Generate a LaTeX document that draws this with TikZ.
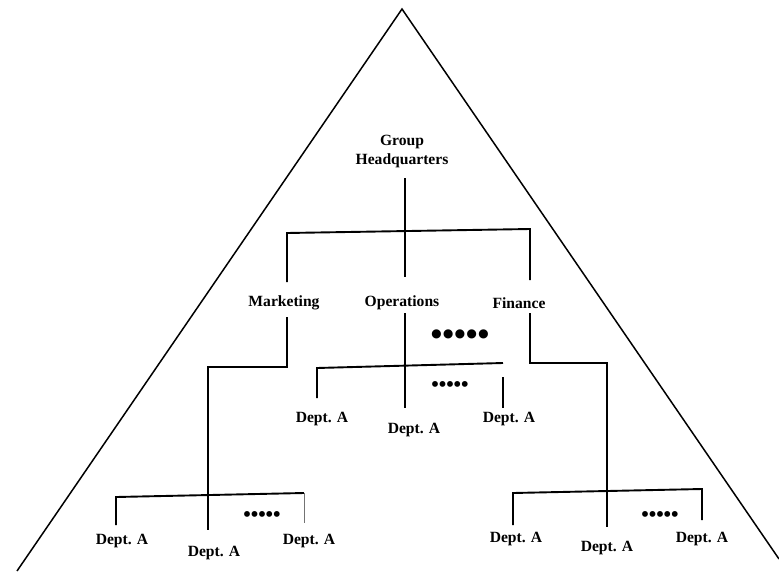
\documentclass[tikz,border=0pt]{standalone}
\usepackage{fontspec}
\setmainfont{Liberation Serif}
\begin{document}
\begin{tikzpicture}[x=1pt,y=-1pt,
  lbl/.style={font=\fontsize{15.6}{19}\selectfont\bfseries, inner sep=0pt, align=center},
  dots/.style={font=\fontsize{21.4}{22}\selectfont\bfseries, inner sep=0pt},
  bigdots/.style={font=\fontsize{33.6}{34}\selectfont\bfseries, inner sep=0pt},
  conn/.style={line width=1.9pt, line join=miter},
  thinconn/.style={line width=1pt, black!55},
  edge/.style={line width=1.5pt}]
\useasboundingbox (0,0) rectangle (779,571);

% pyramid outline
\coordinate (apex) at (402,9);
\coordinate (baseL) at (17,571);
\coordinate (baseR) at (779,559);
\draw[edge] (baseL) -- (apex) -- (baseR);

% top level
\node[lbl] (hq) at (402,151) {Group\\Headquarters};

% divisions
\node[lbl] (mkt) at (284,303) {Marketing};
\node[lbl] (ops) at (402,303) {Operations};
\node[lbl] (fin) at (519,303) {Finance};

% departments under operations
\node[lbl] (o1) at (322,419) {Dept. A};
\node[lbl] (o2) at (414,430) {Dept. A};
\node[lbl] (o3) at (509,419) {Dept. A};
\node[bigdots] (odots) at (460,338) {•••••};
\node[dots] (osub) at (450,387) {•••••};

% departments under marketing
\node[lbl] (m1) at (122,541) {Dept. A};
\node[lbl] (m2) at (214,553) {Dept. A};
\node[lbl] (m3) at (309,541) {Dept. A};
\node[dots] (mdots) at (262,517) {•••••};

% departments under finance
\node[lbl] (f1) at (516,539) {Dept. A};
\node[lbl] (f2) at (607,548) {Dept. A};
\node[lbl] (f3) at (702,539) {Dept. A};
\node[dots] (fdots) at (660,517) {•••••};

% junction points
\coordinate (hqT) at (405,178);
\coordinate (hqB) at (405,277);
\coordinate (busL) at (287,233);
\coordinate (busR) at (530,229);
\coordinate (mktT) at (287,282);
\coordinate (finT) at (530,280);

\coordinate (mktB) at (287,317);
\coordinate (mktK) at (287,367);
\coordinate (mktJ) at (208,367);
\coordinate (mktE) at (208,530);

\coordinate (opsB) at (405,313);
\coordinate (opsE) at (405,408);
\coordinate (oL) at (317,368);
\coordinate (oLE) at (317,398);
\coordinate (oR) at (503,363);
\coordinate (oRT) at (503,377);
\coordinate (oRE) at (503,408);

\coordinate (finB) at (530,313);
\coordinate (finK) at (530,363);
\coordinate (finJ) at (607,363);
\coordinate (finE) at (607,527);

\coordinate (mL) at (116,497);
\coordinate (mLE) at (116,525);
\coordinate (mR) at (304,493);
\coordinate (mRE) at (304,523);

\coordinate (fL) at (513,493);
\coordinate (fLE) at (513,525);
\coordinate (fR) at (702,489);
\coordinate (fRE) at (702,520);

% headquarters to divisions
\draw[conn] (hqT) -- (hqB);
\draw[conn] (mktT) -- (busL) -- (busR) -- (finT);

% marketing branch
\draw[conn] (mktB) -- (mktK) -- (mktJ) -- (mktE);
\draw[conn] (mLE) -- (mL) -- (mR);
\draw[thinconn] (mR) -- (mRE);

% operations branch
\draw[conn] (opsB) -- (opsE);
\draw[conn] (oLE) -- (oL) -- (oR);
\draw[conn] (oRT) -- (oRE);

% finance branch
\draw[conn] (finB) -- (finK) -- (finJ) -- (finE);
\draw[conn] (fLE) -- (fL) -- (fR) -- (fRE);
\end{tikzpicture}
\end{document}
